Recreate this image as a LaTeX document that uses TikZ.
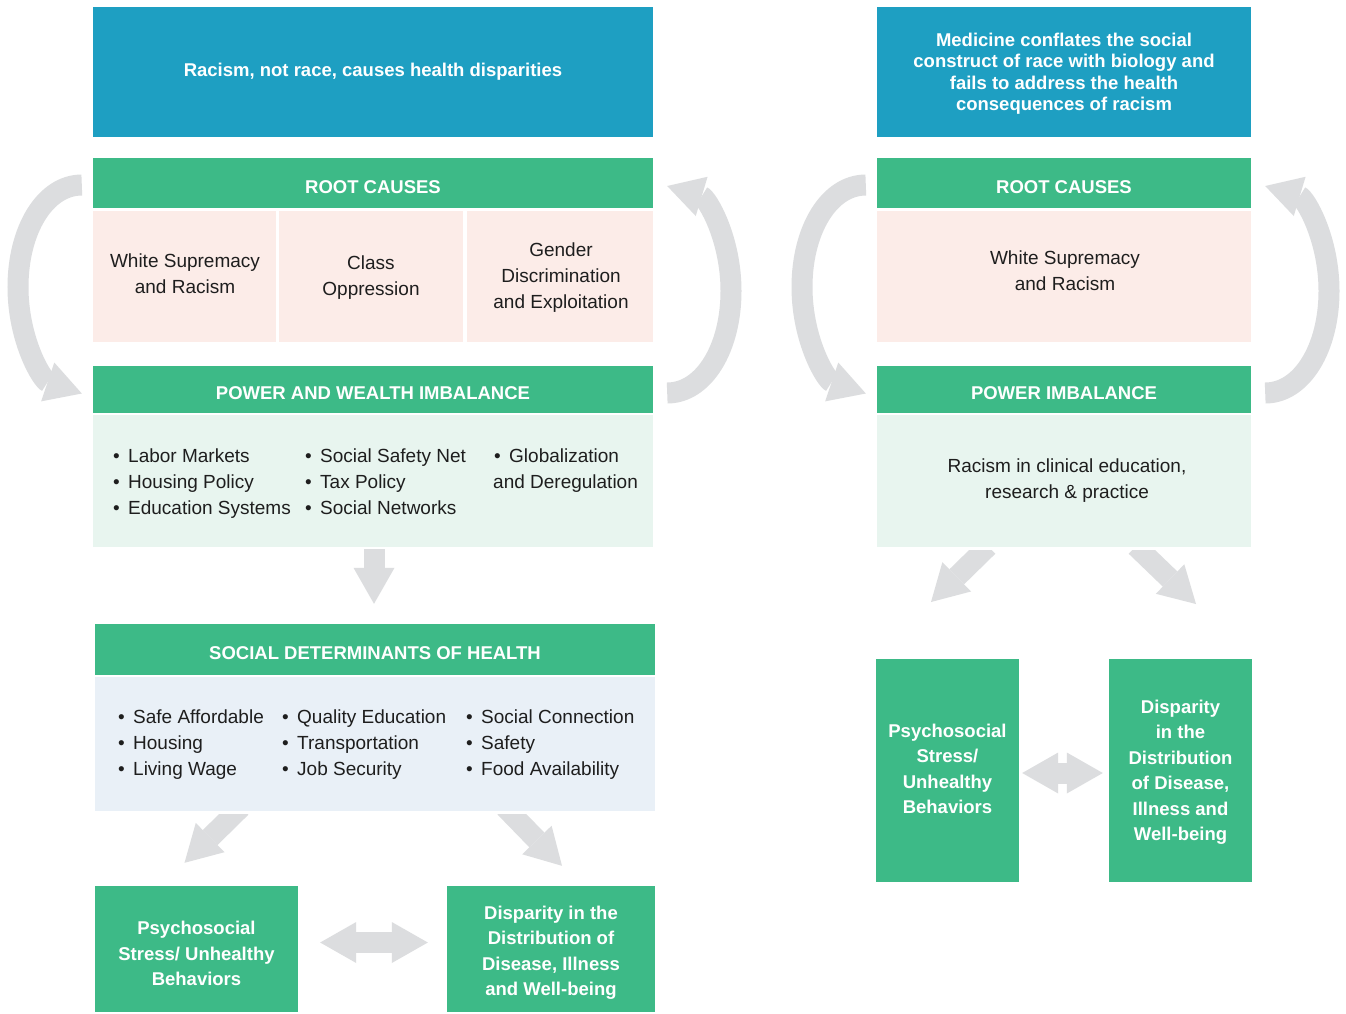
\documentclass[tikz,border=0pt]{standalone}
\usepackage{fontspec}
\setmainfont{Liberation Sans}
\usetikzlibrary{arrows.meta,calc}
\definecolor{tblue}{HTML}{1E9FC2}
\definecolor{tgreen}{HTML}{3DBA87}
\definecolor{tpink}{HTML}{FCECE8}
\definecolor{tlgreen}{HTML}{E8F5EF}
\definecolor{tlblue}{HTML}{E9F0F7}
\definecolor{tgray}{HTML}{DCDDDF}
\definecolor{tdark}{HTML}{1E1E1E}
\newcommand\hdfont{\fontsize{18.5}{25.5}\selectfont\bfseries}
\newcommand\ttlfont{\fontsize{18.5}{21.5}\selectfont\bfseries}
\newcommand\bdfont{\fontsize{19}{26}\selectfont}
\newcommand\vs{\rule[-4.6pt]{0pt}{25pt}}
\newcommand\bitem[1]{\vs\makebox[15pt][l]{\textbullet}#1}
\tikzset{
  anybox/.style={draw=none, inner sep=0pt, align=center},
  bluebox/.style={anybox, fill=tblue, text=white, font=\hdfont},
  greenhead/.style={anybox, fill=tgreen, text=white, font=\hdfont, text height=20pt, text depth=0pt},
  greenbox/.style={anybox, fill=tgreen},
  pinkcell/.style={anybox, fill=tpink, minimum height=131pt},
  lgbox/.style={anybox, fill=tlgreen},
  lbbox/.style={anybox, fill=tlblue},
  itemcol/.style={inner sep=0pt, align=left, text=tdark, font=\bdfont},
  plaintext/.style={inner sep=0pt, align=center, text=tdark, font=\bdfont},
  whitetext/.style={inner sep=0pt, align=center, text=white, font=\hdfont},
  blockarrow/.style={draw=tgray, line width=21pt,
    -{Triangle[length=36pt 0 1, width=41pt 0 1, line width=0pt 0 1]}},
  dblarrow/.style={draw=tgray, line width=21pt,
    {Triangle[length=36pt 0 1, width=41pt 0 1, line width=0pt 0 1]}-{Triangle[length=36pt 0 1, width=41pt 0 1, line width=0pt 0 1]}},
}
\begin{document}
\begin{tikzpicture}[x=1pt,y=-1pt]
\useasboundingbox[fill=white] (0,0) rectangle (1346,1013);

% ---------------- left column ----------------
\node[bluebox, minimum width=560pt, minimum height=130pt] (title) at (373,72) {Racism, not race, causes health disparities};
\node[greenhead, minimum width=560pt, minimum height=50pt] (rc) at (373,183) {ROOT CAUSES};
\node[pinkcell, minimum width=183pt] (c1) at (184.5,276.5) {};
\node[pinkcell, minimum width=184pt] (c2) at (371,276.5) {};
\node[pinkcell, minimum width=186pt] (c3) at (560,276.5) {};
\node[plaintext] (c1t) at (185,273) {\vs White Supremacy\\\vs and Racism};
\node[plaintext] (c2t) at (371,275) {\vs Class\\\vs Oppression};
\node[plaintext] (c3t) at (561,275) {\vs Gender\\\vs Discrimination\\\vs and Exploitation};
\node[greenhead, minimum width=560pt, minimum height=47pt] (pwh) at (373,389.5) {POWER AND WEALTH IMBALANCE};
\node[lgbox, minimum width=560pt, minimum height=132pt] (pwb) at (373,481) {};
\node[itemcol, anchor=west] (pw1) at (113,480.5) {\bitem{Labor Markets}\\\bitem{Housing Policy}\\\bitem{Education Systems}};
\node[itemcol, anchor=west] (pw2) at (305,480.5) {\bitem{Social Safety Net}\\\bitem{Tax Policy}\\\bitem{Social Networks}};
\node[itemcol, anchor=west] (pw3) at (493,467.5) {\vs\makebox[16pt][l]{\hspace{1pt}\textbullet}Globalization\\\vs and Deregulation};

\node[greenhead, minimum width=560pt, minimum height=51pt] (sdhh) at (375,649.5) {SOCIAL DETERMINANTS OF HEALTH};
\node[lbbox, minimum width=560pt, minimum height=134pt] (sdhb) at (375,744) {};
\node[itemcol, anchor=west] (sd1) at (118,741.7) {\bitem{Safe Affordable}\\\bitem{Housing}\\\bitem{Living Wage}};
\node[itemcol, anchor=west] (sd2) at (282,741.7) {\bitem{Quality Education}\\\bitem{Transportation}\\\bitem{Job Security}};
\node[itemcol, anchor=west] (sd3) at (466,741.7) {\bitem{Social Connection}\\\bitem{Safety}\\\bitem{Food Availability}};

\node[greenbox, minimum width=203pt, minimum height=126pt] (psl) at (196.5,949) {};
\node[greenbox, minimum width=208pt, minimum height=126pt] (dis) at (551,949) {};
\node[whitetext] (pslt) at (196.5,952.5) {\vs Psychosocial\\\vs Stress/ Unhealthy\\\vs Behaviors};
\node[whitetext] (dist) at (551,949.5) {\vs Disparity in the\\\vs Distribution of\\\vs Disease, Illness\\\vs and Well-being};

% ---------------- right column ----------------
\node[bluebox, minimum width=374pt, minimum height=130pt] (rtitle) at (1064,72) {};
\node[whitetext, font=\ttlfont] (rtitlet) at (1064,73.5) {Medicine conflates the social\\construct of race with biology and\\fails to address the health\\consequences of racism};
\node[greenhead, minimum width=374pt, minimum height=50pt] (rrc) at (1064,183) {ROOT CAUSES};
\node[pinkcell, minimum width=374pt] (rcell) at (1064,276.5) {};
\node[plaintext] (rcellt) at (1065,270) {\vs White Supremacy\\\vs and Racism};
\node[greenhead, minimum width=374pt, minimum height=47pt] (rpwh) at (1064,389.5) {POWER IMBALANCE};
\node[lgbox, minimum width=374pt, minimum height=132pt] (rpwb) at (1064,481) {};
\node[plaintext] (rpwt) at (1067,478) {\vs Racism in clinical education,\\\vs research \& practice};
\node[greenbox, minimum width=143pt, minimum height=223pt] (rpsl) at (947.5,770.5) {};
\node[greenbox, minimum width=143pt, minimum height=223pt] (rdis) at (1180.5,770.5) {};
\node[whitetext] (rpslt) at (947.5,767.5) {\vs Psychosocial\\\vs Stress/\\\vs Unhealthy\\\vs Behaviors};
\node[whitetext] (rdist) at (1180.5,769) {\vs Disparity\\\vs in the\\\vs Distribution\\\vs of Disease,\\\vs Illness and\\\vs Well-being};

% ---------------- connectors ----------------
% straight down
\draw[blockarrow] ($(pwb.south)+(1,2)$) -- ($(sdhh.north)+(-1,-20)$);

% diagonal arrows, left column
\begin{scope}
  \clip (0,814) rectangle (1346,880);
  \coordinate (ld1) at ($(sdhb.south)+(-134,-4)$);
  \coordinate (ld2) at ($(psl.north)+(-12,-23)$);
  \coordinate (rd1) at ($(sdhb.south)+(130,-4)$);
  \coordinate (rd2) at ($(dis.north)+(11,-20)$);
  \draw[blockarrow] (ld1) -- (ld2);
  \draw[blockarrow] (rd1) -- (rd2);
\end{scope}
% diagonal arrows, right column
\begin{scope}
  \clip (0,550) rectangle (1346,640);
  \coordinate (rld1) at ($(rpwb.south)+(-76,-1)$);
  \coordinate (rld2) at (931,602);
  \coordinate (rrd1) at ($(rpwb.south)+(72,-1)$);
  \coordinate (rrd2) at (1196,604);
  \draw[blockarrow] (rld1) -- (rld2);
  \draw[blockarrow] (rrd1) -- (rrd2);
\end{scope}

% double arrows
\draw[dblarrow] ($(psl.east)+(22,-6.5)$) -- ($(dis.west)+(-19,-6.5)$);
\draw[dblarrow] ($(rpsl.east)+(3,2.5)$) -- ($(rdis.west)+(-6,2.5)$);

% curved arrows, left column
\coordinate (la1) at ($(rc.west)+(-11,2)$);
\coordinate (la2) at ($(pwh.west)+(-11,4)$);
\draw[blockarrow] (la1) .. controls (45,185) and (18,230) .. (18,287) .. controls (18,340) and (42,380) .. (la2);
\coordinate (lb1) at ($(pwh.east)+(14,3.5)$);
\coordinate (lb2) at ($(rc.east)+(14,3)$);
\draw[blockarrow] (lb1) .. controls (704,393) and (731,348) .. (731,291) .. controls (731,238) and (707,198) .. (lb2);

% curved arrows, right column
\coordinate (ra1) at ($(rrc.west)+(-11,2)$);
\coordinate (ra2) at ($(rpwh.west)+(-11,4)$);
\draw[blockarrow] (ra1) .. controls (829,185) and (802,230) .. (802,287) .. controls (802,340) and (826,380) .. (ra2);
\coordinate (rb1) at ($(rpwh.east)+(14,3.5)$);
\coordinate (rb2) at ($(rrc.east)+(14,3)$);
\draw[blockarrow] (rb1) .. controls (1302,393) and (1329,348) .. (1329,291) .. controls (1329,238) and (1305,198) .. (rb2);
\end{tikzpicture}
\end{document}
